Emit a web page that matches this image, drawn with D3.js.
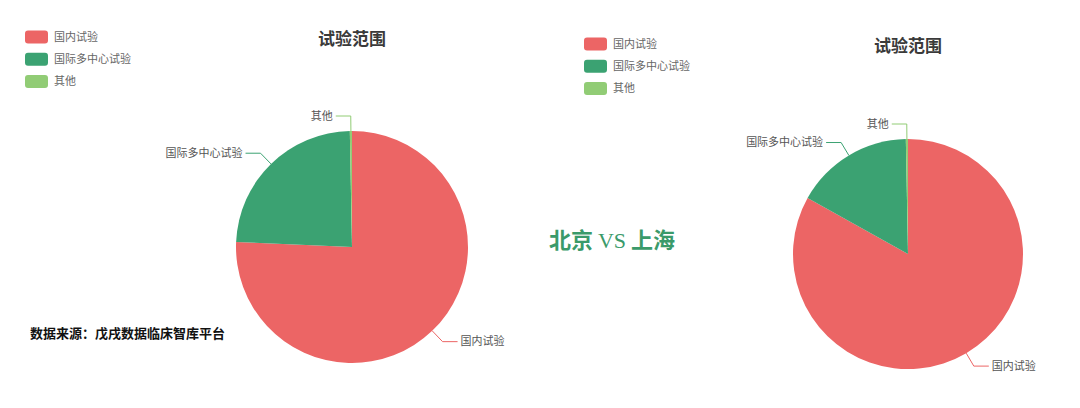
<!DOCTYPE html>
<html>
<head>
<meta charset="utf-8">
<script src="https://cdn.jsdelivr.net/npm/d3@7"></script>
<style>
  body { margin: 0; background: #fff; }
  svg { display: block; font-family: "Noto Sans CJK SC", "Noto Sans", sans-serif; }
</style>
</head>
<body>
<svg id="chart" width="1080" height="408"></svg>
<script>
var categories = ['国内试验', '国际多中心试验', '其他'];
var beijingValues = [757, 240, 3];
var shanghaiValues = [831, 166, 3];
var colors = ['#ec6565', '#3ba272', '#91cc75'];
var titleText = '试验范围';

var svg = d3.select('#chart');

var color = d3.scaleOrdinal()
  .domain(categories)
  .range(colors);

var pie = d3.pie()
  .sort(null)
  .value(function (d) { return d.value; });

// one pie panel: legend, title, pie with leader-line labels
function drawPanel(values, opt) {
  var data = categories.map(function (c, i) {
    return { name: c, value: values[i] };
  });

  // legend
  var legend = svg.append('g')
    .attr('transform', 'translate(' + opt.legendX + ',' + opt.legendY + ')');
  var items = legend.selectAll('g')
    .data(categories)
    .enter()
    .append('g')
    .attr('transform', function (d, i) { return 'translate(0,' + i * 22.3 + ')'; });
  items.append('rect')
    .attr('x', 0).attr('y', -6.5)
    .attr('width', 23).attr('height', 13)
    .attr('rx', 3)
    .attr('fill', function (d) { return color(d); });
  items.append('text')
    .attr('x', 29).attr('y', 0)
    .attr('dy', '0.35em')
    .attr('font-size', '11px')
    .attr('fill', '#666')
    .text(function (d) { return d; });

  // title
  svg.append('text')
    .attr('x', opt.cx)
    .attr('y', opt.titleY)
    .attr('text-anchor', 'middle')
    .attr('font-size', '17px')
    .attr('font-weight', 'bold')
    .attr('fill', '#3a3a3a')
    .text(titleText);

  var g = svg.append('g')
    .attr('transform', 'translate(' + opt.cx + ',' + opt.cy + ')');

  var arc = d3.arc().innerRadius(0).outerRadius(opt.r);
  var arcs = pie(data);

  g.selectAll('path.slice')
    .data(arcs)
    .enter()
    .append('path')
    .attr('class', 'slice')
    .attr('d', arc)
    .attr('fill', function (d) { return color(d.data.name); });

  // leader lines: radial 15px then horizontal 15px
  function pt(a, rr) { return [Math.sin(a) * rr, -Math.cos(a) * rr]; }
  arcs.forEach(function (d) {
    var a = (d.startAngle + d.endAngle) / 2;
    var p1 = pt(a, opt.r);
    var p2 = pt(a, opt.r + 15);
    var side = Math.sin(a) >= 0 ? 1 : -1;
    if (Math.abs(Math.sin(a)) < 0.05) side = -1;
    var p3 = [p2[0] + side * 15, p2[1]];
    g.append('polyline')
      .attr('points', [p1, p2, p3].map(function (p) { return p.join(','); }).join(' '))
      .attr('fill', 'none')
      .attr('stroke', color(d.data.name))
      .attr('stroke-width', 1);
    g.append('text')
      .attr('x', p3[0] + side * 3)
      .attr('y', p3[1])
      .attr('dy', '0.35em')
      .attr('text-anchor', side > 0 ? 'start' : 'end')
      .attr('font-size', '11px')
      .attr('fill', '#555')
      .text(d.data.name);
  });
}

drawPanel(beijingValues, { cx: 352, cy: 247, r: 116, titleY: 45, legendX: 25, legendY: 37 });
drawPanel(shanghaiValues, { cx: 908, cy: 254, r: 115, titleY: 52, legendX: 584, legendY: 44 });

// centre caption
var vs = svg.append('text')
  .attr('x', 612)
  .attr('y', 240)
  .attr('dy', '0.35em')
  .attr('text-anchor', 'middle')
  .attr('fill', '#3a9a6a')
  .attr('font-size', '22px')
  .attr('font-weight', 'bold');
vs.append('tspan').text('北京 ');
vs.append('tspan')
  .attr('font-family', '"Liberation Serif", serif')
  .attr('font-weight', 'normal')
  .text('VS');
vs.append('tspan').text(' 上海');

// source note
svg.append('text')
  .attr('x', 30)
  .attr('y', 333)
  .attr('dy', '0.35em')
  .attr('font-size', '13px')
  .attr('font-weight', 'bold')
  .attr('fill', '#111')
  .text('数据来源：戊戌数据临床智库平台');
</script>
</body>
</html>
